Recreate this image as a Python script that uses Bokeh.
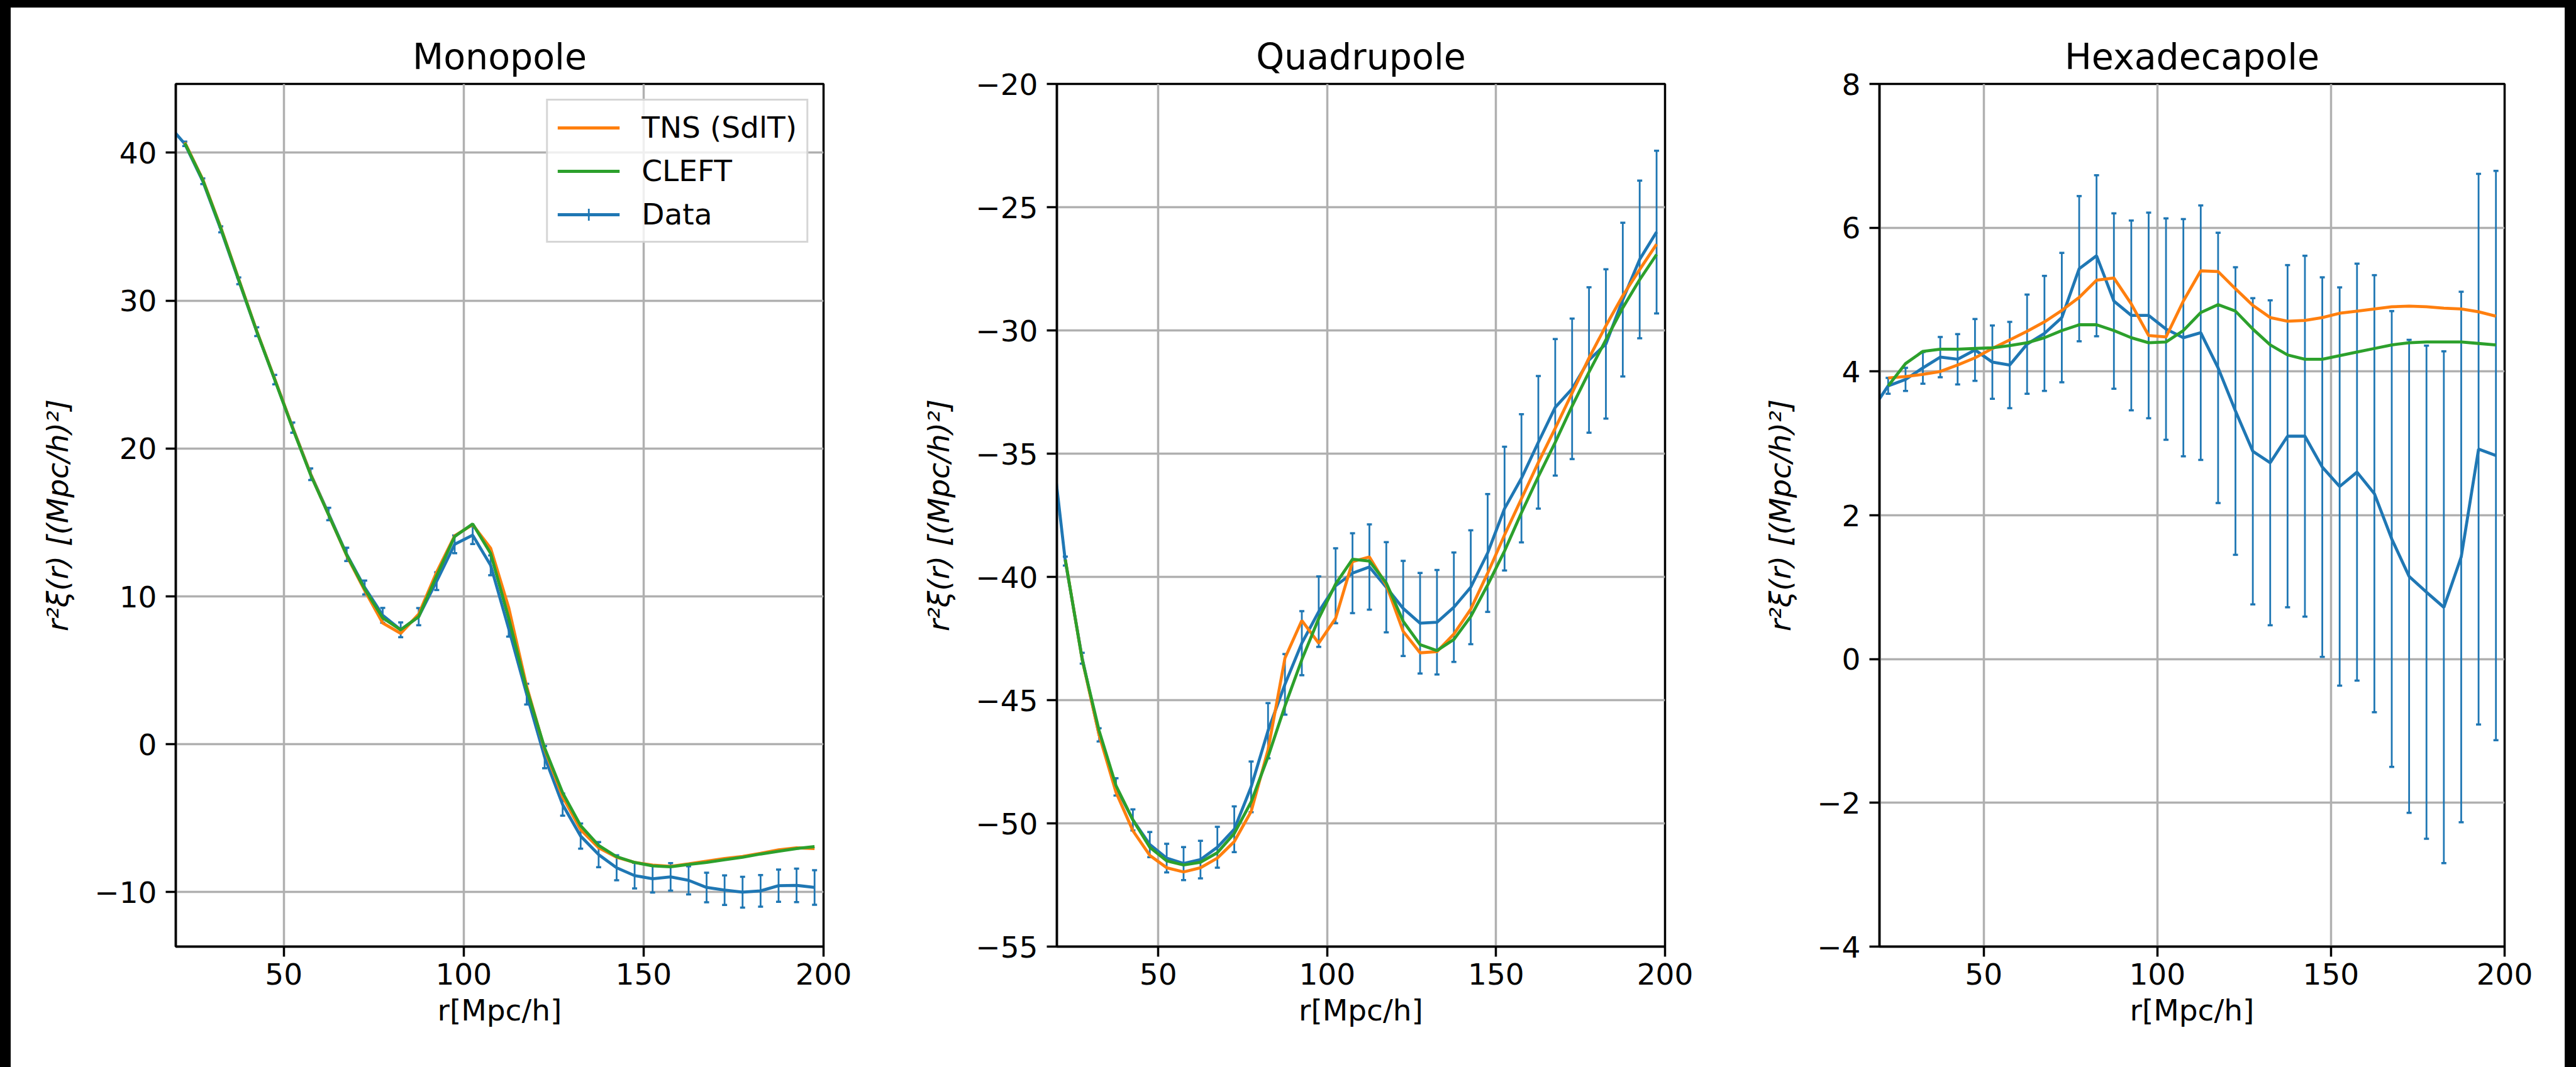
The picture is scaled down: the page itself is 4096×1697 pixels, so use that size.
from bokeh.plotting import figure
from bokeh.models import Range1d, FixedTicker, Legend, LegendItem, Spacer
from bokeh.layouts import row, column
from bokeh.embed import file_html
from bokeh.resources import INLINE

# ---------------- data ----------------
r_data = [17.5, 22.5, 27.5, 32.5, 37.5, 42.5, 47.5, 52.5, 57.5, 62.5, 67.5, 72.5, 77.5,
          82.5, 87.5, 92.5, 97.5, 102.5, 107.5, 112.5, 117.5, 122.5, 127.5, 132.5, 137.5,
          142.5, 147.5, 152.5, 157.5, 162.5, 167.5, 172.5, 177.5, 182.5, 187.5, 192.5, 197.5]
r_model = r_data[1:]

mono_data = [42.0, 40.6, 38.07, 34.82, 31.34, 27.9, 24.66, 21.41, 18.26, 15.57, 12.84, 10.6, 8.72,
             7.74, 8.63, 11.03, 13.52, 14.14, 12.1, 7.83, 3.39, -0.87, -4.08, -6.21, -7.46,
             -8.35, -8.88, -9.09, -8.97, -9.2, -9.68, -9.86, -10.0, -9.91, -9.56, -9.54, -9.68]
mono_err = [0.12, 0.15, 0.19, 0.2, 0.23, 0.3, 0.32, 0.35, 0.39, 0.42, 0.45, 0.47, 0.5,
            0.5, 0.58, 0.6, 0.6, 0.6, 0.67, 0.55, 0.7, 0.75, 0.75, 0.85, 0.85,
            0.85, 0.87, 0.93, 0.93, 0.95, 1.0, 1.0, 1.04, 1.07, 1.09, 1.13, 1.17]
mono_tns = [40.7, 38.2, 34.95, 31.45, 27.95, 24.7, 21.4, 18.25, 15.5, 12.75, 10.4, 8.2,
            7.5, 8.8, 11.65, 14.1, 14.85, 13.25, 9.25, 3.92, -0.34, -3.55, -5.77, -7.0,
            -7.64, -7.99, -8.17, -8.25, -8.08, -7.9, -7.72, -7.58, -7.37, -7.14, -7.0, -7.05]
mono_cleft = [40.65, 38.15, 34.9, 31.4, 27.92, 24.65, 21.35, 18.2, 15.5, 12.8, 10.5, 8.54,
              7.74, 8.63, 11.4, 14.05, 14.9, 12.9, 8.54, 3.74, -0.25, -3.28, -5.5, -6.84,
              -7.6, -7.99, -8.22, -8.29, -8.13, -7.99, -7.81, -7.64, -7.42, -7.23, -7.05, -6.92]

quad_data = [-33.4, -39.36, -43.3, -46.41, -48.52, -49.86, -50.86, -51.41, -51.63, -51.47, -50.97, -50.24, -48.52,
             -46.24, -44.36, -42.69, -41.41, -40.36, -39.85, -39.6, -40.42, -41.28, -41.88, -41.84, -41.23,
             -40.42, -39.03, -37.23, -36.0, -34.54, -33.12, -32.37, -31.2, -30.55, -28.75, -27.12, -26.01]
quad_err = [0.18, 0.18, 0.22, 0.27, 0.35, 0.43, 0.51, 0.58, 0.67, 0.76, 0.83, 0.93, 1.03,
            1.12, 1.23, 1.3, 1.43, 1.52, 1.62, 1.73, 1.83, 1.93, 2.04, 2.12, 2.22,
            2.31, 2.39, 2.51, 2.6, 2.69, 2.77, 2.85, 2.95, 3.03, 3.12, 3.2, 3.3]
quad_tns = [-39.3, -43.36, -46.41, -48.74, -50.3, -51.3, -51.8, -51.97, -51.8, -51.41, -50.74, -49.52,
            -47.02, -43.3, -41.77, -42.69, -41.68, -39.38, -39.19, -40.33, -42.21, -43.08, -43.03, -42.32,
            -41.31, -39.85, -38.3, -36.83, -35.36, -33.97, -32.54, -31.12, -29.81, -28.59, -27.53, -26.5]
quad_cleft = [-39.3, -43.36, -46.24, -48.47, -49.86, -50.97, -51.52, -51.69, -51.58, -51.19, -50.41, -49.13,
              -47.3, -45.24, -43.36, -41.69, -40.29, -39.28, -39.36, -40.25, -41.8, -42.75, -42.99, -42.54,
              -41.61, -40.33, -38.95, -37.4, -35.93, -34.54, -33.07, -31.69, -30.38, -29.08, -27.94, -26.92]

hexa_data = [3.44, 3.8, 3.89, 4.05, 4.2, 4.17, 4.3, 4.13, 4.09, 4.38, 4.53, 4.75, 5.43,
             5.61, 4.98, 4.78, 4.78, 4.59, 4.47, 4.54, 4.05, 3.45, 2.89, 2.73, 3.1,
             3.1, 2.67, 2.4, 2.6, 2.3, 1.67, 1.15, 0.93, 0.72, 1.42, 2.92, 2.83]
hexa_err = [0.08, 0.11, 0.16, 0.22, 0.28, 0.35, 0.43, 0.51, 0.6, 0.69, 0.8, 0.9, 1.01,
            1.12, 1.22, 1.32, 1.43, 1.54, 1.65, 1.77, 1.88, 2.0, 2.13, 2.26, 2.38,
            2.51, 2.64, 2.77, 2.9, 3.04, 3.17, 3.29, 3.43, 3.56, 3.69, 3.83, 3.96]
hexa_tns = [3.91, 3.93, 3.96, 4.0, 4.09, 4.19, 4.32, 4.44, 4.56, 4.69, 4.85, 5.03,
            5.27, 5.3, 4.94, 4.5, 4.48, 4.98, 5.4, 5.39, 5.15, 4.92, 4.75, 4.7,
            4.71, 4.75, 4.81, 4.84, 4.87, 4.9, 4.91, 4.9, 4.88, 4.87, 4.83, 4.77]
hexa_cleft = [3.8, 4.11, 4.28, 4.31, 4.31, 4.32, 4.33, 4.36, 4.4, 4.47, 4.57, 4.65,
              4.65, 4.57, 4.47, 4.4, 4.41, 4.57, 4.82, 4.93, 4.84, 4.59, 4.37, 4.23,
              4.17, 4.17, 4.22, 4.27, 4.32, 4.37, 4.4, 4.41, 4.41, 4.41, 4.39, 4.37]

titles = ["Monopole", "Quadrupole", "Hexadecapole"]
x_ticks = [50, 100, 150, 200]
mono_yticks = [-10, 0, 10, 20, 30, 40]
quad_yticks = [-55, -50, -45, -40, -35, -30, -25, -20]
hexa_yticks = [-4, -2, 0, 2, 4, 6, 8]
y_label = "r²ξ(r) [(Mpc/h)²]"
x_label = "r[Mpc/h]"
legend_labels = ["TNS (SdlT)", "CLEFT", "Data"]

# ---------------- style ----------------
FONT = "DejaVu Sans"
BLUE, ORANGE, GREEN = "#1f77b4", "#ff7f0e", "#2ca02c"
GRID = "#b0b0b0"
H = 1685
BT, BB = 121, 192


def minus(v):
    return ("−" + str(abs(v))) if v < 0 else str(v)


def panel(title, yd, ye, ytns, ycleft, yrange, yticks, width, bl, br, legend=False):
    p = figure(width=width, height=H, x_range=Range1d(20, 200), y_range=Range1d(*yrange),
               output_backend="svg", toolbar_location=None,
               min_border_left=bl, min_border_right=br, min_border_top=BT, min_border_bottom=BB)
    p.background_fill_color = "white"
    p.border_fill_color = "white"
    p.outline_line_color = "black"
    p.outline_line_width = 3.5

    p.title.text = title
    p.title.text_font = FONT
    p.title.text_font_size = "57px"
    p.title.text_font_style = "normal"
    p.title.text_color = "black"
    p.title.align = "center"
    p.title.standoff = 22

    for ax, ticks in ((p.xaxis[0], x_ticks), (p.yaxis[0], yticks)):
        ax.ticker = FixedTicker(ticks=ticks)
        ax.major_label_overrides = {t: minus(t) for t in ticks}
        ax.major_label_text_font = FONT
        ax.major_label_text_font_size = "47px"
        ax.major_label_text_color = "black"
        ax.major_tick_out = 16
        ax.major_tick_in = 0
        ax.major_tick_line_width = 3.5
        ax.major_tick_line_color = "black"
        ax.minor_tick_line_color = None
        ax.axis_line_color = "black"
        ax.axis_line_width = 3.5
        ax.axis_label_text_font = FONT
        ax.axis_label_text_font_size = "47px"
        ax.axis_label_text_color = "black"
    p.xaxis[0].axis_label = x_label
    p.xaxis[0].axis_label_text_font_style = "normal"
    p.xaxis[0].major_label_standoff = 10
    p.xaxis[0].axis_label_standoff = 10
    p.yaxis[0].axis_label = y_label
    p.yaxis[0].axis_label_text_font_style = "italic"
    p.yaxis[0].major_label_standoff = 14
    p.yaxis[0].axis_label_standoff = 28

    for g in (p.xgrid[0], p.ygrid[0]):
        g.grid_line_color = GRID
        g.grid_line_width = 3.5

    lo = [y - e for y, e in zip(yd, ye)]
    hi = [y + e for y, e in zip(yd, ye)]
    p.segment(x0=r_data, y0=lo, x1=r_data, y1=hi, line_color=BLUE, line_width=2.8)
    p.scatter(x=r_data + r_data, y=lo + hi, marker="dash", size=8, line_color=BLUE, line_width=3.5)
    dline = p.line(r_data, yd, line_color=BLUE, line_width=4.8)
    tline = p.line(r_model, ytns, line_color=ORANGE, line_width=4.8)
    cline = p.line(r_model, ycleft, line_color=GREEN, line_width=4.8)

    if legend:
        cross = p.scatter(x=[-100], y=[0], marker="cross", size=40, line_color=BLUE, line_width=2.8)
        lg = Legend(items=[LegendItem(label=legend_labels[0], renderers=[tline]),
                           LegendItem(label=legend_labels[1], renderers=[cline]),
                           LegendItem(label=legend_labels[2], renderers=[dline, cross])],
                    location="top_right")
        lg.margin = 24
        lg.padding = 15
        lg.spacing = 14
        lg.glyph_height = 48
        lg.glyph_width = 99
        lg.label_standoff = 35
        lg.label_text_font = FONT
        lg.label_text_font_size = "47px"
        lg.label_text_color = "black"
        lg.label_height = 48
        lg.border_line_color = "#cccccc"
        lg.border_line_width = 3.3
        lg.border_line_alpha = 0.8
        lg.background_fill_alpha = 0.8
        p.add_layout(lg)
    return p


p1 = panel(titles[0], mono_data, mono_err, mono_tns, mono_cleft, (-13.68, 44.65), mono_yticks,
           1445, 262, 153, legend=True)
p2 = panel(titles[1], quad_data, quad_err, quad_tns, quad_cleft, (-55, -20), quad_yticks,
           1338, 155, 153)
p3 = panel(titles[2], hexa_data, hexa_err, hexa_tns, hexa_cleft, (-4, 8), hexa_yticks,
           1278, 153, 96)

blk = {"background-color": "black"}
top = Spacer(width=4096, height=12, styles=blk)
left = Spacer(width=17, height=H, styles=blk)
right = Spacer(width=18, height=H, styles=blk)
layout = column(top, row(left, p1, p2, p3, right, spacing=0), spacing=0)

open("out.html", "w").write(file_html(layout, INLINE))
